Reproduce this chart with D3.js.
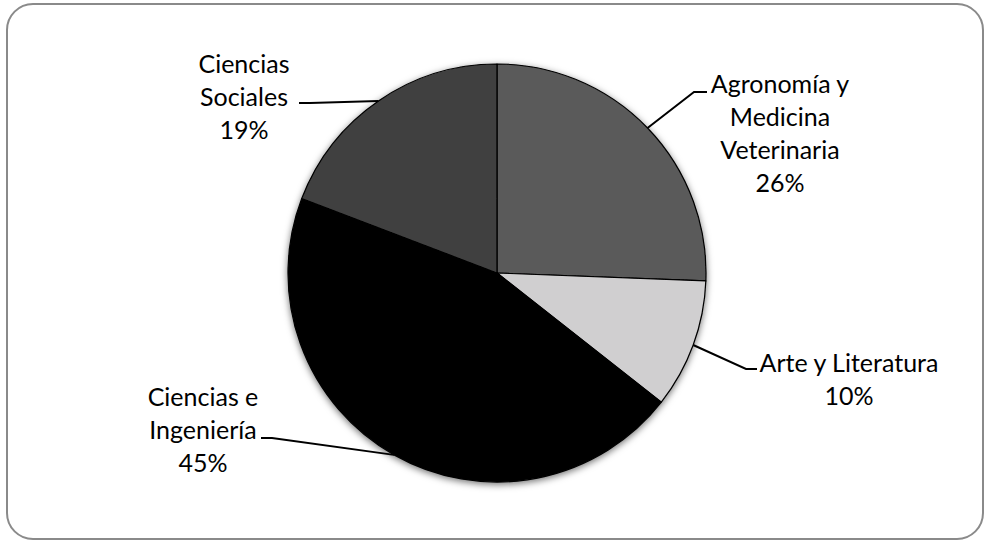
<!DOCTYPE html>
<html>
<head>
<meta charset="utf-8">
<script src="https://cdn.jsdelivr.net/npm/d3@7"></script>
<style>
  html, body { margin: 0; padding: 0; background: #fff; }
  svg { display: block; }
  text { font-family: Lato, "Open Sans", sans-serif; font-size: 25px; fill: #000; }
</style>
</head>
<body>
<svg id="chart" width="985" height="544"></svg>
<script>
const categories = ["Agronomía y Medicina Veterinaria", "Arte y Literatura", "Ciencias e Ingeniería", "Ciencias Sociales"];
const labelLines = [["Agronomía y", "Medicina", "Veterinaria"], ["Arte y Literatura"], ["Ciencias e", "Ingeniería"], ["Ciencias", "Sociales"]];
const values = [25.6, 10.0, 45.2, 19.2];
const colors = ["#5a5a5a", "#d0cfd0", "#000000", "#404040"];

const svg = d3.select("#chart");

// frame
svg.append("rect").attr("x", 7).attr("y", 4).attr("width", 976).attr("height", 535)
  .attr("rx", 26).attr("ry", 26).attr("fill", "#fff").attr("stroke", "#8a8a8a").attr("stroke-width", 2);

const defs = svg.append("defs");
const f = defs.append("filter").attr("id", "shadow").attr("x", "-20%").attr("y", "-20%").attr("width", "140%").attr("height", "140%");
f.append("feDropShadow").attr("dx", 0).attr("dy", 2).attr("stdDeviation", 3.5).attr("flood-color", "#000").attr("flood-opacity", 0.55);

const cx = 497, cy = 273, r = 209;
const total = d3.sum(values);
const pie = d3.pie().sort(null).value(d => d)(values);
const arc = d3.arc().innerRadius(0).outerRadius(r);

const g = svg.append("g").attr("transform", `translate(${cx},${cy})`);
const slices = g.append("g").attr("filter", "url(#shadow)");
slices.selectAll("path").data(pie).join("path")
  .attr("d", arc)
  .attr("fill", (d, i) => colors[i])
  .attr("stroke", "#000").attr("stroke-width", 1.2).attr("stroke-linejoin", "round");

// label layout (anchor centers, elbow points)
const layout = [
  { tx: 780, ty: 93, elbow: [694, 92], end: [707, 92] },
  { tx: 849, ty: 372, elbow: [746, 369], end: [757, 369] },
  { tx: 203, ty: 406, elbow: [272, 438], end: [261, 438] },
  { tx: 244, ty: 73, elbow: [310, 103], end: [299, 103] }
];
const lineH = 33;

pie.forEach((d, i) => {
  const a = (d.startAngle + d.endAngle) / 2;
  const px = cx + r * Math.sin(a), py = cy - r * Math.cos(a);
  const L = layout[i];
  svg.append("polyline")
    .attr("points", [[px, py], L.elbow, L.end].map(p => p.join(",")).join(" "))
    .attr("fill", "none").attr("stroke", "#000").attr("stroke-width", 2);
  const t = svg.append("text").attr("text-anchor", "middle");
  const lines = labelLines[i].concat([Math.round(d.value / total * 100) + "%"]);
  lines.forEach((s, k) => {
    t.append("tspan").attr("x", L.tx).attr("y", L.ty + k * lineH).text(s);
  });
});
</script>
</body>
</html>
